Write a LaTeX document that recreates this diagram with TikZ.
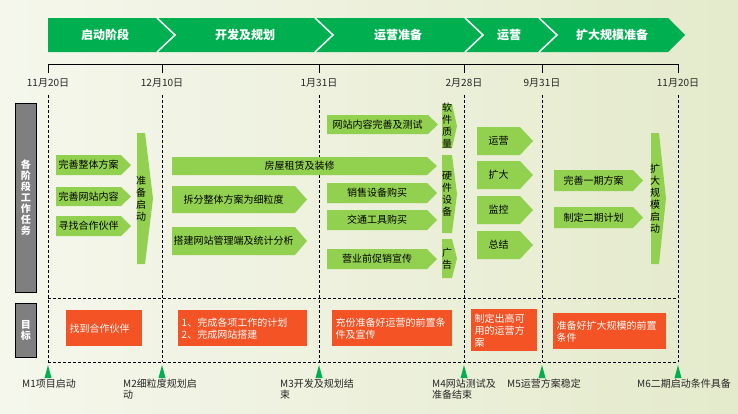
\documentclass[tikz,border=0pt]{standalone}
\usepackage{fontspec}
\setmainfont{Noto Sans CJK SC}
\definecolor{phasegreen}{HTML}{00B050}
\definecolor{taskgreen}{HTML}{92D050}
\definecolor{goalred}{HTML}{F35325}
\definecolor{boxgray}{HTML}{7F7F7F}
\definecolor{bgleft}{HTML}{F5F7EC}
\definecolor{bgright}{HTML}{E4EACB}
% name, left, top, body right, bottom, tip, text
\newcommand\taskarrow[7]{%
  \fill[taskgreen] (#2,#3) -- (#4,#3) -- (#6,{(#3+#5)/2}) -- (#4,#5) -- (#2,#5) -- cycle;
  \node[tasktext] (#1) at ({(#2+#4)/2},{(#3+#5)/2}) {#7};}
\begin{document}
\begin{tikzpicture}[x=1pt,y=-1pt,
    tasktext/.style={inner sep=0pt,align=center,font=\fontsize{10}{12}\selectfont},
    phase/.style={text=white,font=\bfseries\fontsize{12}{14}\selectfont},
    datelabel/.style={text=black!85,font=\fontsize{10}{12}\selectfont},
    goal/.style={fill=goalred,text=white,align=left,inner xsep=3.5pt,inner ysep=0pt,anchor=north west,font=\fontsize{10}{12}\selectfont},
    sidebox/.style={fill=boxgray,draw=black,line width=0.8pt,minimum width=21pt,anchor=north west,inner sep=0pt,text=white,align=center,font=\bfseries\fontsize{10}{11}\selectfont},
    divider/.style={dash pattern=on 3pt off 2pt,line width=0.7pt},
    mslabel/.style={anchor=north west,align=left,inner sep=0pt,text=black!85,font=\fontsize{10}{11}\selectfont}]
    \shade[left color=bgleft,middle color=white,right color=bgright] (0,0) rectangle (738,413);
    % phase banner
    \fill[phasegreen] (48,18) -- (668,18) -- (685,35) -- (668,52) -- (48,52) -- cycle;
    \foreach \x in {157,315,465,539}
        \draw[white,line width=1.5pt] (\x,18) -- ({\x+18},35) -- (\x,52);
    \node[phase] (p1) at (105,35) {启动阶段};
    \node[phase] (p2) at (245,35) {开发及规划};
    \node[phase] (p3) at (398,35) {运营准备};
    \node[phase] (p4) at (509,35) {运营};
    \node[phase] (p5) at (612,35) {扩大规模准备};
    % time line
    \draw[line width=0.8pt] (48,64) -- (678,64);
    \foreach \x/\d in {48/11月20日,162/12月10日,319/1月31日,464/2月28日,542/9月31日,678/11月20日} {
        \draw[line width=0.8pt] (\x,64) -- (\x,73);
        \node[datelabel] (d\x) at (\x,83) {\d};
        \draw[divider] (\x,95) -- (\x,362);
        \fill[phasegreen] ({\x-3.5},378) -- (\x,365) -- ({\x+3.5},378) -- cycle;
    }
    \draw[divider] (48,298) -- (678,298);
    \draw[divider] (48,362) -- (678,362);
    % side boxes
    \node[sidebox,minimum height=189pt] (tasks) at (15,103) {各\\阶\\段\\工\\作\\任\\务};
    \node[sidebox,minimum height=54pt] (goals) at (15,303) {目\\标};
    % tasks
    \taskarrow{a1}{56}{155}{121}{175}{131}{完善整体方案}
    \taskarrow{a2}{56}{187}{121}{206}{131}{完善网站内容}
    \taskarrow{a3}{56}{216}{121}{236}{131}{寻找合作伙伴}
    \taskarrow{a4}{137}{133}{145}{264}{153}{准\\备\\启\\动}
    \taskarrow{b1}{172}{157}{427}{175}{437}{房屋租赁及装修}
    \taskarrow{b2}{172}{186}{295}{213}{307}{拆分整体方案为细粒度}
    \taskarrow{b3}{172}{227}{295}{255}{307}{搭建网站管理端及统计分析}
    \taskarrow{c1}{327}{115}{428}{134}{438}{网站内容完善及测试}
    \taskarrow{c2}{327}{183}{427}{203}{437}{销售设备购买}
    \taskarrow{c3}{327}{210}{427}{230}{437}{交通工具购买}
    \taskarrow{c4}{327}{249}{427}{269}{437}{营业前促销宣传}
    \taskarrow{c5}{442}{104}{452}{148}{457}{软\\件\\质\\量}
    \taskarrow{c6}{442}{155}{452}{233}{457}{硬\\件\\设\\备}
    \taskarrow{c7}{442}{239}{452}{278}{457}{广\\告}
    \taskarrow{d1}{477}{127}{520}{155}{533}{运营}
    \taskarrow{d2}{477}{161}{520}{189}{533}{扩大}
    \taskarrow{d3}{477}{196}{520}{224}{533}{监控}
    \taskarrow{d4}{477}{231}{520}{259}{533}{总结}
    \taskarrow{e1}{554}{170}{633}{191}{643}{完善一期方案}
    \taskarrow{e2}{554}{207}{633}{228}{643}{制定二期计划}
    \taskarrow{e3}{651}{133}{659}{264}{666}{扩\\大\\规\\模\\启\\动}
    % goals
    \node[goal,text width=69pt,minimum height=36pt] (g1) at (66,310) {找到合作伙伴};
    \node[goal,text width=122pt,minimum height=36pt] (g2) at (178,310) {1、完成各项工作的计划\\2、完成网站搭建};
    \node[goal,text width=113pt,minimum height=36pt] (g3) at (332,310) {充份准备好运营的前置条\\件及宣传};
    \node[goal,text width=59pt,minimum height=42pt] (g4) at (471,309) {制定出高可\\用的运营方\\案};
    \node[goal,text width=106pt,minimum height=36pt] (g5) at (553,313) {准备好扩大规模的前置\\条件};
    % milestones
    \node[mslabel] (m1) at (22,379) {M1项目启动};
    \node[mslabel] (m2) at (123,379) {M2细粒度规划启\\动};
    \node[mslabel] (m3) at (280,379) {M3开发及规划结\\束};
    \node[mslabel] (m4) at (432,379) {M4网站测试及\\准备结束};
    \node[mslabel] (m5) at (507,379) {M5运营方案稳定};
    \node[mslabel] (m6) at (637,379) {M6二期启动条件具备};
\end{tikzpicture}
\end{document}
